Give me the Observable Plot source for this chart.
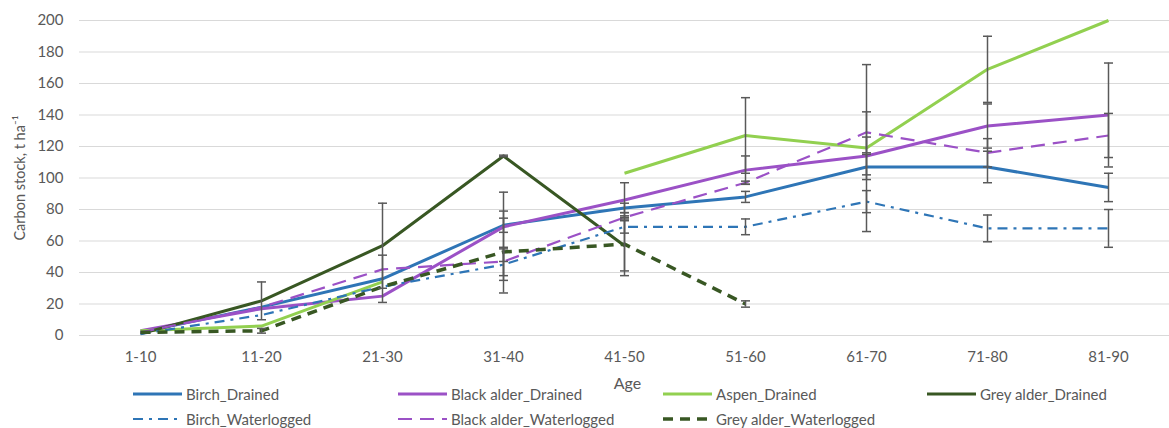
<!DOCTYPE html>
<html>
<head>
<meta charset="utf-8">
<script src="https://cdn.jsdelivr.net/npm/d3@7"></script>
<script src="https://cdn.jsdelivr.net/npm/@observablehq/plot@0.6"></script>
<style>
  body { margin: 0; background: #fff; }
  #wrap { position: relative; width: 1169px; }
  #legend { position: relative; width: 1169px; height: 36px; font-family: Lato, "Open Sans", sans-serif; font-size: 15px; color: #595959; }
  .item { position: absolute; display: flex; align-items: center; height: 18px; white-space: nowrap; }
  .item svg { display: block; margin-right: 4px; }
</style>
</head>
<body>
<div id="wrap"></div>
<div id="legend"></div>
<script>
// ---- data ----
const ages = ["1-10", "11-20", "21-30", "31-40", "41-50", "51-60", "61-70", "71-80", "81-90"];
const yTicks = [0, 20, 40, 60, 80, 100, 120, 140, 160, 180, 200];

const birchDrained          = [2, 18, 36, 70, 81, 88, 107, 107, 94];
const blackAlderDrained     = [3, 17, 25, 69, 86, 105, 114, 133, 140];
const aspenDrained          = [3, 6, 34, null, 103, 127, 119, 169, 200];
const greyAlderDrained      = [1, 22, 57, 114, 57, null, null, null, null];
const birchWaterlogged      = [1, 13, 31, 45, 69, 69, 85, 68, 68];
const blackAlderWaterlogged = [2, 18, 42, 47, 75, 97, 129, 116, 127];
const greyAlderWaterlogged  = [2, 3, 31, 53, 58, 20, null, null, null];

const birchDrainedErr          = [null, null, 15, 4.5, 3, 3.5, 8, 10, 9];
const blackAlderDrainedErr     = [null, null, null, 22, 11, 9, 12, 14, 33];
const aspenDrainedErr          = [null, null, null, null, null, 24, 53, 21, null];
const greyAlderDrainedErr      = [null, 12, 27, 0.5, 16, null, null, null, null];
const birchWaterloggedErr      = [null, null, null, 10, 4, 5, 7, 8.5, 12];
const blackAlderWaterloggedErr = [null, null, null, 9, 1, 1, 13, 9, 14];
const greyAlderWaterloggedErr  = [null, 1.5, null, 26, 20, 2, null, null, null];

// ---- series styling ----
const series = [
  {name: "Birch_Drained", values: birchDrained, errors: birchDrainedErr, color: "#2E75B6", width: 3, dash: null},
  {name: "Black alder_Drained", values: blackAlderDrained, errors: blackAlderDrainedErr, color: "#9B51C6", width: 3, dash: null},
  {name: "Aspen_Drained", values: aspenDrained, errors: aspenDrainedErr, color: "#92D050", width: 3, dash: null},
  {name: "Grey alder_Drained", values: greyAlderDrained, errors: greyAlderDrainedErr, color: "#385723", width: 3, dash: null},
  {name: "Birch_Waterlogged", values: birchWaterlogged, errors: birchWaterloggedErr, color: "#2E75B6", width: 2.2, dash: "10,6,3,6"},
  {name: "Black alder_Waterlogged", values: blackAlderWaterlogged, errors: blackAlderWaterloggedErr, color: "#9B51C6", width: 2.2, dash: "14,8"},
  {name: "Grey alder_Waterlogged", values: greyAlderWaterlogged, errors: greyAlderWaterloggedErr, color: "#385723", width: 3.5, dash: "10,7"}
];

const rows = [];
series.forEach(s => s.values.forEach((v, i) => rows.push({age: ages[i], series: s.name, value: v, err: s.errors[i]})));
const errRows = rows.filter(d => d.value != null && d.err != null);

const cap = {draw(context) { context.moveTo(-4.5, 0); context.lineTo(4.5, 0); }};
const textColor = "#595959";

const chart = Plot.plot({
  width: 1169,
  height: 392,
  marginLeft: 79,
  marginRight: 0,
  marginTop: 20,
  marginBottom: 57,
  style: {fontFamily: "Lato, 'Open Sans', sans-serif", fontSize: "15px", color: textColor, background: "#fff"},
  x: {type: "point", domain: ages, padding: 0.5},
  y: {domain: [0, 200]},
  marks: [
    Plot.ruleY(yTicks, {stroke: "#D9D9D9", strokeWidth: 1}),
    Plot.axisY({ticks: yTicks, tickSize: 0, tickPadding: 16, label: null, fontSize: 15}),
    Plot.axisX({tickSize: 0, tickPadding: 16, label: null, fontSize: 15}),
    ...series.map(s => Plot.line(rows.filter(d => d.series === s.name), {
      x: "age", y: "value", stroke: s.color, strokeWidth: s.width,
      strokeDasharray: s.dash, strokeLinejoin: "round", strokeLinecap: "butt"
    })),
    Plot.ruleX(errRows, {x: "age", y1: d => d.value - d.err, y2: d => d.value + d.err, stroke: "#595959", strokeWidth: 1.5}),
    Plot.dot(errRows, {x: "age", y: d => d.value + d.err, symbol: cap, stroke: "#595959", strokeWidth: 1.5, fill: "none"}),
    Plot.dot(errRows, {x: "age", y: d => d.value - d.err, symbol: cap, stroke: "#595959", strokeWidth: 1.5, fill: "none"}),
    Plot.text(["Carbon stock, t ha⁻¹"], {frameAnchor: "left", textAnchor: "middle", lineAnchor: "middle", dx: -59, rotate: -90, fontSize: 14.5, fill: textColor}),
    Plot.text(["Age"], {frameAnchor: "bottom", lineAnchor: "middle", dy: 48, dx: 3, fontSize: 16, fill: textColor})
  ]
});
document.getElementById("wrap").appendChild(chart);

// ---- legend ----
const legendLayout = [
  {name: "Birch_Drained", left: 133, top: -7},
  {name: "Black alder_Drained", left: 398, top: -7},
  {name: "Aspen_Drained", left: 663, top: -7},
  {name: "Grey alder_Drained", left: 927, top: -7},
  {name: "Birch_Waterlogged", left: 133, top: 18},
  {name: "Black alder_Waterlogged", left: 398, top: 18},
  {name: "Grey alder_Waterlogged", left: 663, top: 18}
];
const legend = document.getElementById("legend");
legendLayout.forEach(l => {
  const s = series.find(d => d.name === l.name);
  const item = document.createElement("div");
  item.className = "item";
  item.style.left = l.left + "px";
  item.style.top = l.top + "px";
  item.innerHTML = `<svg width="49" height="10"><line x1="0" y1="5" x2="49" y2="5" stroke="${s.color}" stroke-width="${s.width}" ${s.dash ? `stroke-dasharray="${s.dash}"` : ""}/></svg><span>${s.name}</span>`;
  legend.appendChild(item);
});
</script>
</body>
</html>
